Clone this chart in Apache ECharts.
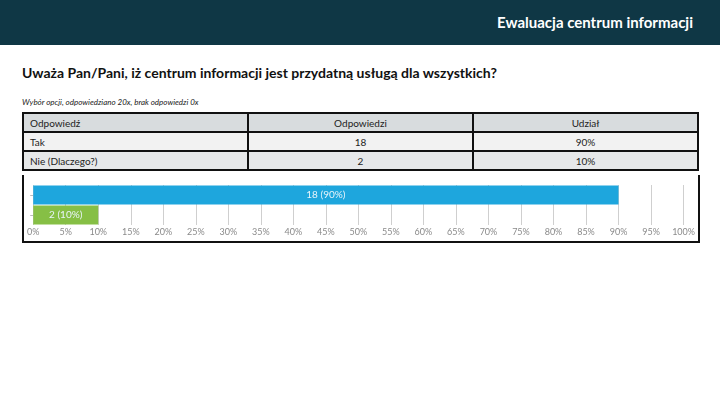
<!DOCTYPE html>
<html><head><meta charset="utf-8">
<script src="https://cdn.jsdelivr.net/npm/echarts@6/dist/echarts.min.js"></script>
<style>
html,body{margin:0;padding:0;width:720px;height:405px;background:#fff;overflow:hidden;font-family:Lato,"Open Sans",sans-serif;}
#hdr{position:absolute;left:0;top:0;width:720px;height:45px;background:#0f3745;}
#hdr span{position:absolute;right:27px;top:13px;color:#fff;font-size:15px;font-weight:bold;}
#q{position:absolute;left:22px;top:64px;font-size:14px;font-weight:bold;color:#111;}
#sub{position:absolute;left:22px;top:97px;font-size:8px;font-style:italic;color:#222;}
table{position:absolute;left:22px;top:112px;width:677px;border-collapse:collapse;table-layout:fixed;font-size:10px;color:#222;}
td{border:2px solid #111;height:17px;padding:0 6px;text-align:center;}
td:first-child{text-align:left;}
tr.h td{background:#d8dcde;}
tr.r1 td{background:#f2f2f2;}
tr.r2 td{background:#e6e8e9;}
#box{position:absolute;left:22px;top:175px;width:674px;height:66px;border:2px solid #111;border-top:none;}
#chart{position:absolute;left:0;top:0;width:674px;height:66px;}
</style></head>
<body>
<div id="hdr"><span>Ewaluacja centrum informacji</span></div>
<div id="q">Uważa Pan/Pani, iż centrum informacji jest przydatną usługą dla wszystkich?</div>
<div id="sub">Wybór opcji, odpowiedziano 20x, brak odpowiedzi 0x</div>
<table id="tbl"></table>
<div id="box"><div id="chart"></div></div>
<script>
var headers = ["Odpowiedź", "Odpowiedzi", "Udział"];
var categories = ["Tak", "Nie (Dlaczego?)"];
var counts = [18, 2];
var shares = [90, 10];
var xTicks = [0,5,10,15,20,25,30,35,40,45,50,55,60,65,70,75,80,85,90,95,100];
var barColors = ["#1ea6dd", "#86bf45"];

var tbl = document.getElementById('tbl');
var html = '<tr class="h">' + headers.map(function(h){return '<td>'+h+'</td>';}).join('') + '</tr>';
categories.forEach(function(c,i){
  html += '<tr class="r'+(i+1)+'"><td>'+c+'</td><td>'+counts[i]+'</td><td>'+shares[i]+'%</td></tr>';
});
tbl.innerHTML = html;

var chart = echarts.init(document.getElementById('chart'));
chart.setOption({
  animation:false,
  grid:{left:6,right:10,top:10,bottom:16,containLabel:false},
  xAxis:{type:'value',min:xTicks[0],max:xTicks[xTicks.length-1],interval:5,
    axisLine:{show:false},axisTick:{show:false},
    axisLabel:{formatter:'{value}%',color:'#8a8a8a',fontSize:9,margin:3,fontFamily:'Lato'},
    splitLine:{lineStyle:{color:'#cfcfcf',width:1}}},
  yAxis:{type:'category',inverse:true,data:categories,
    axisLine:{show:false},axisLabel:{show:false},
    axisTick:{show:true,length:3,lineStyle:{color:'#bbb'},alignWithLabel:true}},
  series:[{type:'bar',barCategoryGap:'6%',
    data:shares.map(function(v,i){return {value:v,itemStyle:{color:barColors[i]}};}),
    label:{show:true,position:'inside',color:'#e8f4fa',fontSize:10,fontFamily:'Lato',
      formatter:function(p){return counts[p.dataIndex]+' ('+shares[p.dataIndex]+'%)';}}
  }]
});
</script>
</body></html>
